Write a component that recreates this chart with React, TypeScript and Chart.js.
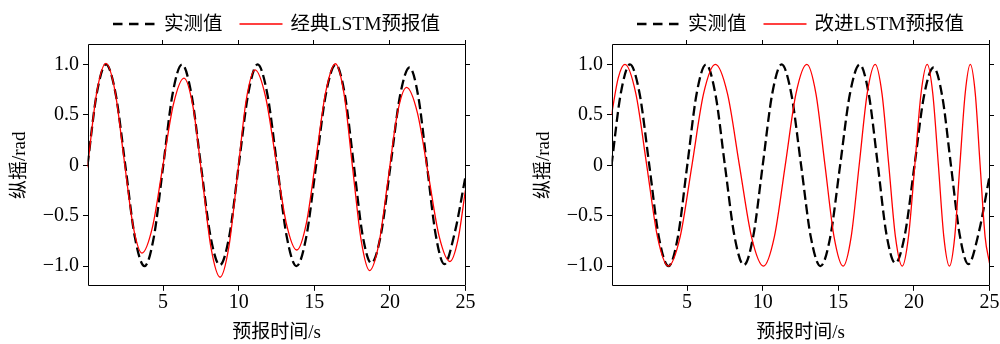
import React, { useEffect, useRef } from 'react';
import { Chart, registerables } from 'chart.js';

Chart.register(...registerables);

// ---------- data ----------
const X_TICKS = [5, 10, 15, 20, 25];
const X_TICK_LABELS = ['5', '10', '15', '20', '25'];
const Y_TICKS = [-1, -0.5, 0, 0.5, 1];
const Y_TICK_LABELS = ['−1.0', '−0.5', '0', '0.5', '1.0'];

const X_TITLE = '预报时间/s';
const Y_TITLE = '纵摇/rad';
const MEAS_LABEL = '实测值';
const CLASSIC_LABEL = '经典LSTM预报值';
const IMPROVED_LABEL = '改进LSTM预报值';

// measured roll (实测值)
const MEAS_T = [0, 0.61, 1.22, 1.86, 2.5, 3.13, 3.77, 4.39, 5.01, 5.63, 6.25, 6.88, 7.5, 8.13, 8.75, 9.38, 10.0, 10.63, 11.25, 11.89, 12.54, 13.18, 13.82, 14.47, 15.12, 15.77, 16.42, 17.01, 17.6, 18.18, 18.77, 19.4, 20.04, 20.67, 21.3, 21.88, 22.45, 23.03, 23.6, 24.3, 25.0];
const MEAS_V = [0, 0.71, 1.0, 0.71, 0, -0.71, -1.0, -0.71, 0, 0.71, 1.0, 0.7, 0, -0.7, -0.99, -0.7, 0, 0.71, 1.0, 0.71, 0, -0.71, -1.0, -0.71, 0, 0.71, 1.0, 0.71, 0.02, -0.68, -0.97, -0.69, 0, 0.69, 0.97, 0.68, 0, -0.69, -0.98, -0.66, -0.11];

// classic LSTM forecast (经典LSTM预报值)
const CLASSIC_T = [0, 0.61, 1.22, 1.82, 2.41, 3.01, 3.6, 4.3, 4.99, 5.69, 6.38, 6.98, 7.58, 8.17, 8.77, 9.35, 9.93, 10.5, 11.08, 11.77, 12.46, 13.15, 13.84, 14.48, 15.12, 15.76, 16.4, 16.97, 17.53, 18.1, 18.66, 19.27, 19.88, 20.49, 21.1, 21.82, 22.54, 23.25, 23.97, 24.5, 25.0];
const CLASSIC_V = [-0.02, 0.72, 1.01, 0.735, 0.07, -0.595, -0.87, -0.61, 0, 0.61, 0.865, 0.58, -0.12, -0.82, -1.11, -0.81, -0.08, 0.65, 0.947, 0.685, 0.055, -0.575, -0.84, -0.57, 0.08, 0.73, 1.007, 0.705, -0.02, -0.745, -1.044, -0.78, -0.14, 0.51, 0.772, 0.52, -0.09, -0.7, -0.954, -0.74, -0.243];

// improved LSTM forecast (改进LSTM预报值)
const IMPROVED_T = [0, 0.45, 0.89, 1.61, 2.33, 3.04, 3.76, 4.54, 5.32, 6.09, 6.87, 7.67, 8.46, 9.26, 10.05, 10.77, 11.49, 12.2, 12.92, 13.52, 14.12, 14.72, 15.32, 15.85, 16.38, 16.91, 17.44, 17.89, 18.34, 18.78, 19.23, 19.64, 20.06, 20.47, 20.88, 21.25, 21.62, 21.98, 22.35, 22.7, 23.04, 23.39, 23.73, 24.06, 24.38, 24.71, 25.0];
const IMPROVED_V = [0.5, 0.87, 1.0, 0.71, 0, -0.71, -1.0, -0.71, 0, 0.71, 1.0, 0.71, 0, -0.71, -1.0, -0.71, 0, 0.71, 1.0, 0.71, 0, -0.71, -1.0, -0.71, 0, 0.71, 1.0, 0.71, 0, -0.71, -1.0, -0.71, 0, 0.71, 1.0, 0.71, 0, -0.71, -1.0, -0.71, 0, 0.71, 1.0, 0.71, 0, -0.71, -0.97];

const X_MIN = 0;
const X_MAX = 25;
const Y_MIN = -1.2;
const Y_MAX = 1.2;

// ---------- style ----------
const FONT_FAMILY = "'Liberation Serif', 'Times New Roman', 'Noto Sans CJK SC', serif";
const TICK_FONT = 20;
const TITLE_FONT = 19;
const LEGEND_FONT = 19.5;
const CANVAS_W = 500;
const CANVAS_H = 344;
const MEAS_DASH = [10, 4.5];

const toPoints = (t: number[], v: number[]) => t.map((x, i) => ({ x, y: v[i] }));
const labelFor = (ticks: number[], labels: string[], value: number) => {
  const i = ticks.findIndex((t) => Math.abs(t - value) < 1e-9);
  return i >= 0 ? labels[i] : '';
};

const framePlugin = {
  id: 'frameTicks',
  afterDraw(chart: any) {
    const { ctx, chartArea: a, scales } = chart;
    ctx.save();
    ctx.strokeStyle = '#000';
    ctx.lineWidth = 1;
    ctx.setLineDash([]);
    const L = Math.round(a.left) + 0.5;
    const R = Math.round(a.right) - 0.5;
    const T = Math.round(a.top) + 0.5;
    const B = Math.round(a.bottom) - 0.5;
    ctx.beginPath();
    ctx.rect(L, T, R - L, B - T);
    ctx.stroke();
    ctx.beginPath();
    X_TICKS.forEach((v) => {
      const x = Math.round(scales.x.getPixelForValue(v)) - 0.5;
      ctx.moveTo(x, T);
      ctx.lineTo(x, T - 4.5);
    });
    Y_TICKS.forEach((v) => {
      const y = Math.round(scales.y.getPixelForValue(v)) + 0.5;
      ctx.moveTo(R, y);
      ctx.lineTo(R + 4.5, y);
    });
    ctx.stroke();
    ctx.restore();
  },
};

const makeLegendPlugin = (items: { label: string; color: string; width: number; dash: number[] }[]) => ({
  id: 'customLegend',
  afterDraw(chart: any) {
    const { ctx, chartArea } = chart;
    const LINE_LEN = 43;
    const TEXT_GAP = 8;
    const ITEM_GAP = 17;
    const Y = 24.5;
    ctx.save();
    ctx.font = `${LEGEND_FONT}px ${FONT_FAMILY}`;
    const widths = items.map((it) => ctx.measureText(it.label).width);
    const total =
      items.reduce((s, _it, i) => s + LINE_LEN + TEXT_GAP + widths[i], 0) + ITEM_GAP * (items.length - 1);
    let x = (chartArea.left + chartArea.right) / 2 - total / 2;
    items.forEach((it, i) => {
      ctx.beginPath();
      ctx.strokeStyle = it.color;
      ctx.lineWidth = it.width;
      ctx.setLineDash(it.dash);
      ctx.moveTo(x, Y - 0.5);
      ctx.lineTo(x + LINE_LEN, Y - 0.5);
      ctx.stroke();
      ctx.setLineDash([]);
      x += LINE_LEN + TEXT_GAP;
      ctx.fillStyle = '#000';
      ctx.textAlign = 'left';
      ctx.textBaseline = 'middle';
      ctx.fillText(it.label, x, Y);
      x += widths[i] + ITEM_GAP;
    });
    ctx.restore();
  },
});

function buildConfig(predLabel: string, predT: number[], predV: number[]): any {
  const tickFont = { family: FONT_FAMILY, size: TICK_FONT };
  const titleFont = { family: FONT_FAMILY, size: TITLE_FONT };
  return {
    type: 'line',
    data: {
      datasets: [
        {
          label: predLabel,
          data: toPoints(predT, predV),
          borderColor: '#ff0000',
          borderWidth: 1.3,
          pointRadius: 0,
          cubicInterpolationMode: 'monotone',
          fill: false,
          order: 0,
        },
        {
          label: MEAS_LABEL,
          data: toPoints(MEAS_T, MEAS_V),
          borderColor: '#000000',
          borderWidth: 2.3,
          borderDash: MEAS_DASH,
          pointRadius: 0,
          cubicInterpolationMode: 'monotone',
          fill: false,
          order: 1,
        },
      ],
    },
    options: {
      animation: false,
      responsive: false,
      devicePixelRatio: 1,
      layout: { padding: { top: 44.3, left: 0, right: 34.5, bottom: 0 } },
      plugins: { legend: { display: false }, tooltip: { enabled: false } },
      scales: {
        x: {
          type: 'linear',
          min: X_MIN,
          max: X_MAX,
          afterBuildTicks: (s: any) => {
            s.ticks = X_TICKS.map((value) => ({ value }));
          },
          afterFit: (s: any) => {
            s.height = 57.7;
          },
          ticks: {
            callback: (v: number) => labelFor(X_TICKS, X_TICK_LABELS, v),
            font: tickFont,
            color: '#000',
            padding: 0,
            maxRotation: 0,
            autoSkip: false,
          },
          grid: { drawOnChartArea: false, drawTicks: true, tickLength: 4.5, tickColor: '#000', tickWidth: 1 },
          border: { display: false },
          title: { display: true, text: X_TITLE, font: titleFont, color: '#000', padding: { top: 0, bottom: 0 } },
        },
        y: {
          type: 'linear',
          min: Y_MIN,
          max: Y_MAX,
          afterBuildTicks: (s: any) => {
            s.ticks = Y_TICKS.map((value) => ({ value }));
          },
          afterFit: (s: any) => {
            s.width = 87.5;
          },
          ticks: {
            callback: (v: number) => labelFor(Y_TICKS, Y_TICK_LABELS, v),
            font: tickFont,
            color: '#000',
            padding: 4,
            autoSkip: false,
          },
          grid: { drawOnChartArea: false, drawTicks: true, tickLength: 4.5, tickColor: '#000', tickWidth: 1 },
          border: { display: false },
          title: { display: true, text: Y_TITLE, font: titleFont, color: '#000', padding: { top: 9, bottom: 0 } },
        },
      },
    },
    plugins: [
      framePlugin,
      makeLegendPlugin([
        { label: MEAS_LABEL, color: '#000000', width: 2.3, dash: [9.5, 6.5] },
        { label: predLabel, color: '#ff0000', width: 1.3, dash: [] },
      ]),
    ],
  };
}

function Panel({ left, predLabel, predT, predV }: { left: number; predLabel: string; predT: number[]; predV: number[] }) {
  const ref = useRef<HTMLCanvasElement>(null);
  useEffect(() => {
    const chart = new Chart(ref.current as HTMLCanvasElement, buildConfig(predLabel, predT, predV));
    return () => chart.destroy();
  }, [predLabel, predT, predV]);
  return (
    <canvas
      ref={ref}
      width={CANVAS_W}
      height={CANVAS_H}
      style={{ position: 'absolute', left, top: 0, width: CANVAS_W, height: CANVAS_H }}
    />
  );
}

export default function App() {
  return (
    <div
      style={{
        position: 'absolute',
        left: 0,
        top: 0,
        width: 1000,
        height: 344,
        overflow: 'hidden',
        background: '#ffffff',
      }}
    >
      <Panel left={0} predLabel={CLASSIC_LABEL} predT={CLASSIC_T} predV={CLASSIC_V} />
      <Panel left={524} predLabel={IMPROVED_LABEL} predT={IMPROVED_T} predV={IMPROVED_V} />
    </div>
  );
}
